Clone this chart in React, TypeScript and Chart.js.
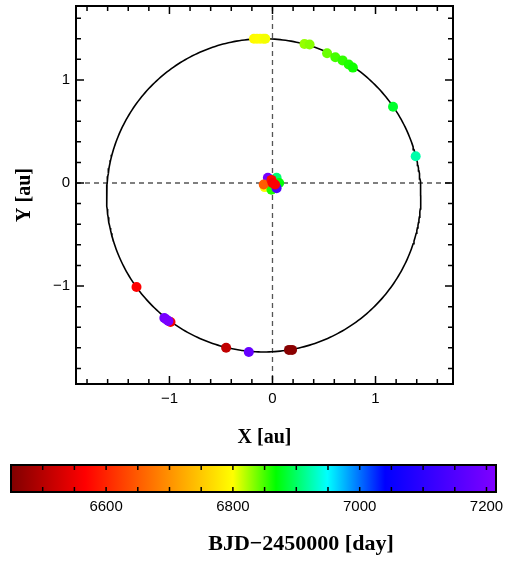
import React, { useEffect, useRef } from "react";
import { Chart, registerables } from "chart.js";

Chart.register(...registerables);

// ---- Data ----
// Planet positions on the orbit (au) and their observation dates (BJD-2450000)
const planetX = [-0.18, -0.15, -0.12, -0.09, -0.07, 0.31, 0.36, 0.53, 0.61, 0.68, 0.74, 0.78, 1.17, 1.39, -1.32, -0.99, -1.05, -1.03, -1.01, -0.45, -0.23, 0.16, 0.19];
const planetY = [1.40, 1.40, 1.40, 1.40, 1.40, 1.35, 1.345, 1.26, 1.22, 1.19, 1.15, 1.12, 0.74, 0.26, -1.01, -1.35, -1.31, -1.325, -1.34, -1.60, -1.64, -1.62, -1.62];
const planetBJD = [6795, 6797, 6799, 6801, 6803, 6828, 6832, 6840, 6850, 6855, 6860, 6864, 6882, 6922, 6565, 6560, 7200, 7205, 7208, 6510, 7180, 6455, 6460];

// Stellar reflex positions near the origin
const starX = [-0.045, 0.04, 0.065, -0.075, -0.01, 0.04, -0.085, -0.01, 0.0, 0.025];
const starY = [0.05, 0.05, 0.0, -0.04, -0.065, -0.05, -0.015, 0.03, 0.0, -0.015];
const starBJD = [7200, 6905, 6870, 6795, 6860, 7150, 6650, 6575, 6560, 6565];

// Fitted orbit (ellipse) parameters
const orbitCenter = [-0.085, -0.12];
const orbitSemiAxes = [1.525, 1.52];

// Axes
const xRange = [-1.907, 1.752];
const yRange = [-1.951, 1.718];
const xMajorTicks = [-1, 0, 1];
const yMajorTicks = [-1, 0, 1];
const minorStep = 0.2;

// Colour bar
const cbarRange = [6450, 7215];
const cbarTicks = [6600, 6800, 7000, 7200];
const cbarMinorStep = 50;
const cmapStops = [6450, 6567, 6800, 6868, 6949, 7040, 7215];
const cmapColors = ["#800000", "#ff0000", "#ffff00", "#00ff00", "#00ffff", "#0000ff", "#8000ff"];

// ---- Helpers ----
function hexToRgb(h: string) {
  return [parseInt(h.slice(1, 3), 16), parseInt(h.slice(3, 5), 16), parseInt(h.slice(5, 7), 16)];
}
function colorFor(v: number) {
  if (v <= cmapStops[0]) return cmapColors[0];
  for (let i = 1; i < cmapStops.length; i++) {
    if (v <= cmapStops[i]) {
      const t = (v - cmapStops[i - 1]) / (cmapStops[i] - cmapStops[i - 1]);
      const a = hexToRgb(cmapColors[i - 1]);
      const b = hexToRgb(cmapColors[i]);
      const c = a.map((x, k) => Math.round(x + (b[k] - x) * t));
      return `rgb(${c[0]},${c[1]},${c[2]})`;
    }
  }
  return cmapColors[cmapColors.length - 1];
}
const fmt = (v: number) => (v < 0 ? "\u2212" + Math.abs(v) : String(v));

const tickFont = { family: "'Liberation Sans', Arial, sans-serif", size: 15 };
const titleFont = { family: "'Liberation Serif', 'Times New Roman', serif", size: 20, weight: "bold" as const };

const noPad = (s: any) => {
  s.paddingTop = 0;
  s.paddingBottom = 0;
  s.paddingLeft = 0;
  s.paddingRight = 0;
};

const framePlugin = {
  id: "frame",
  beforeDatasetsDraw(chart: any) {
    const { ctx, chartArea: a, scales } = chart;
    const x0 = scales.x.getPixelForValue(0);
    const y0 = scales.y.getPixelForValue(0);
    ctx.save();
    ctx.strokeStyle = "#555";
    ctx.lineWidth = 1.3;
    ctx.setLineDash([5, 4]);
    ctx.beginPath();
    ctx.moveTo(x0, a.top);
    ctx.lineTo(x0, a.bottom);
    ctx.moveTo(a.left, y0);
    ctx.lineTo(a.right, y0);
    ctx.stroke();
    ctx.restore();
  },
  afterDraw(chart: any) {
    const { ctx, chartArea: a, scales } = chart;
    ctx.save();
    ctx.strokeStyle = "#000";
    ctx.lineWidth = 1.5;
    const drawTicks = (scale: any, lo: number, hi: number, horizontal: boolean) => {
      const start = Math.ceil(lo / minorStep - 1e-9);
      const end = Math.floor(hi / minorStep + 1e-9);
      for (let i = start; i <= end; i++) {
        const v = i * minorStep;
        const isMajor = Math.abs(v - Math.round(v)) < 1e-6;
        const len = isMajor ? 8 : 5;
        const p = scale.getPixelForValue(v);
        ctx.beginPath();
        if (horizontal) {
          ctx.moveTo(p, a.bottom);
          ctx.lineTo(p, a.bottom - len);
          ctx.moveTo(p, a.top);
          ctx.lineTo(p, a.top + len);
        } else {
          ctx.moveTo(a.left, p);
          ctx.lineTo(a.left + len, p);
          ctx.moveTo(a.right, p);
          ctx.lineTo(a.right - len, p);
        }
        ctx.stroke();
      }
    };
    drawTicks(scales.x, xRange[0], xRange[1], true);
    drawTicks(scales.y, yRange[0], yRange[1], false);
    ctx.lineWidth = 2;
    ctx.strokeRect(a.left, a.top, a.right - a.left, a.bottom - a.top);
    ctx.restore();
  },
};

const cbarPlugin = {
  id: "cbarFrame",
  afterDraw(chart: any) {
    const { ctx, chartArea: a, scales } = chart;
    ctx.save();
    ctx.strokeStyle = "#000";
    ctx.lineWidth = 1.5;
    const start = Math.ceil(cbarRange[0] / cbarMinorStep);
    const end = Math.floor(cbarRange[1] / cbarMinorStep);
    for (let i = start; i <= end; i++) {
      const p = scales.x.getPixelForValue(i * cbarMinorStep);
      ctx.beginPath();
      ctx.moveTo(p, a.top);
      ctx.lineTo(p, a.top + 5);
      ctx.moveTo(p, a.bottom);
      ctx.lineTo(p, a.bottom - 5);
      ctx.stroke();
    }
    ctx.lineWidth = 2;
    ctx.strokeRect(a.left, a.top, a.right - a.left, a.bottom - a.top);
    ctx.fillStyle = "#000";
    ctx.font = `bold 22px ${titleFont.family}`;
    ctx.textAlign = "center";
    ctx.textBaseline = "middle";
    ctx.fillText("BJD\u22122450000 [day]", 301, 94);
    ctx.restore();
  },
};

export default function App() {
  const mainRef = useRef<HTMLCanvasElement>(null);
  const cbarRef = useRef<HTMLCanvasElement>(null);

  useEffect(() => {
    const orbit: { x: number; y: number }[] = [];
    for (let i = 0; i <= 360; i++) {
      const t = (i * Math.PI) / 180;
      orbit.push({ x: orbitCenter[0] + orbitSemiAxes[0] * Math.cos(t), y: orbitCenter[1] + orbitSemiAxes[1] * Math.sin(t) });
    }
    const planet = planetX.map((x, i) => ({ x, y: planetY[i] }));
    const star = starX.map((x, i) => ({ x, y: starY[i] }));

    const main = new Chart(mainRef.current!, {
      type: "scatter",
      data: {
        datasets: [
          {
            data: star,
            order: 1,
            pointRadius: 5,
            pointBorderWidth: 0,
            pointBackgroundColor: starBJD.map(colorFor),
            pointBorderColor: starBJD.map(colorFor),
          },
          {
            data: planet,
            order: 2,
            pointRadius: 5,
            pointBorderWidth: 0,
            pointBackgroundColor: planetBJD.map(colorFor),
            pointBorderColor: planetBJD.map(colorFor),
          },
          {
            data: orbit,
            order: 3,
            showLine: true,
            pointRadius: 0,
            borderColor: "#000",
            borderWidth: 1.6,
            tension: 0,
          },
        ],
      },
      options: {
        animation: false,
        responsive: false,
        layout: { padding: { top: 6, right: 64, left: 0, bottom: 0 } },
        plugins: { legend: { display: false }, tooltip: { enabled: false } },
        scales: {
          x: {
            type: "linear",
            min: xRange[0],
            max: xRange[1],
            grid: { display: false, drawTicks: false },
            border: { display: false },
            afterBuildTicks: (s: any) => {
              s.ticks = xMajorTicks.map((v) => ({ value: v }));
            },
            afterFit: (s: any) => {
              s.height = 76;
              noPad(s);
            },
            ticks: { callback: (v: any) => fmt(Number(v)), font: tickFont, color: "#000", padding: 6, maxRotation: 0 },
            title: { display: true, text: "X [au]", font: titleFont, color: "#000", padding: { top: 0, bottom: 10 } },
          },
          y: {
            type: "linear",
            min: yRange[0],
            max: yRange[1],
            grid: { display: false, drawTicks: false },
            border: { display: false },
            afterBuildTicks: (s: any) => {
              s.ticks = yMajorTicks.map((v) => ({ value: v }));
            },
            afterFit: (s: any) => {
              s.width = 76;
              noPad(s);
            },
            ticks: { callback: (v: any) => fmt(Number(v)), font: tickFont, color: "#000", padding: 6 },
            title: { display: true, text: "Y [au]", font: titleFont, color: "#000", padding: { top: 13, bottom: 0 } },
          },
        },
      },
      plugins: [framePlugin],
    } as any);

    const cbar = new Chart(cbarRef.current!, {
      type: "bar",
      data: {
        labels: [""],
        datasets: [
          {
            data: [[cbarRange[0], cbarRange[1]]],
            barPercentage: 1,
            categoryPercentage: 1,
            borderWidth: 0,
            backgroundColor: (c: any) => {
              const ch = c.chart;
              const area = ch.chartArea;
              if (!area) return "#000";
              const xs = ch.scales.x;
              const g = ch.ctx.createLinearGradient(area.left, 0, area.right, 0);
              cmapStops.forEach((v, i) => {
                const f = (xs.getPixelForValue(v) - area.left) / (area.right - area.left);
                g.addColorStop(Math.min(1, Math.max(0, f)), cmapColors[i]);
              });
              return g;
            },
          },
        ],
      },
      options: {
        animation: false,
        responsive: false,
        indexAxis: "y",
        layout: { padding: { top: 15, right: 21, left: 11, bottom: 0 } },
        plugins: { legend: { display: false }, tooltip: { enabled: false } },
        scales: {
          x: {
            type: "linear",
            min: cbarRange[0],
            max: cbarRange[1],
            grid: { display: false, drawTicks: false },
            border: { display: false },
            afterBuildTicks: (s: any) => {
              s.ticks = cbarTicks.map((v) => ({ value: v }));
            },
            afterFit: (s: any) => {
              s.height = 70;
              noPad(s);
            },
            ticks: { callback: (v: any) => String(v), font: tickFont, color: "#000", padding: 6, maxRotation: 0 },
          },
          y: { display: false },
        },
      },
      plugins: [cbarPlugin],
    } as any);

    return () => {
      main.destroy();
      cbar.destroy();
    };
  }, []);

  return (
    <div style={{ position: "fixed", left: 0, top: 0, width: 517, height: 562, background: "#fff" }}>
      <canvas ref={mainRef} width={517} height={460} style={{ position: "absolute", left: 0, top: 0 }} />
      <canvas ref={cbarRef} width={517} height={112} style={{ position: "absolute", left: 0, top: 450 }} />
    </div>
  );
}
